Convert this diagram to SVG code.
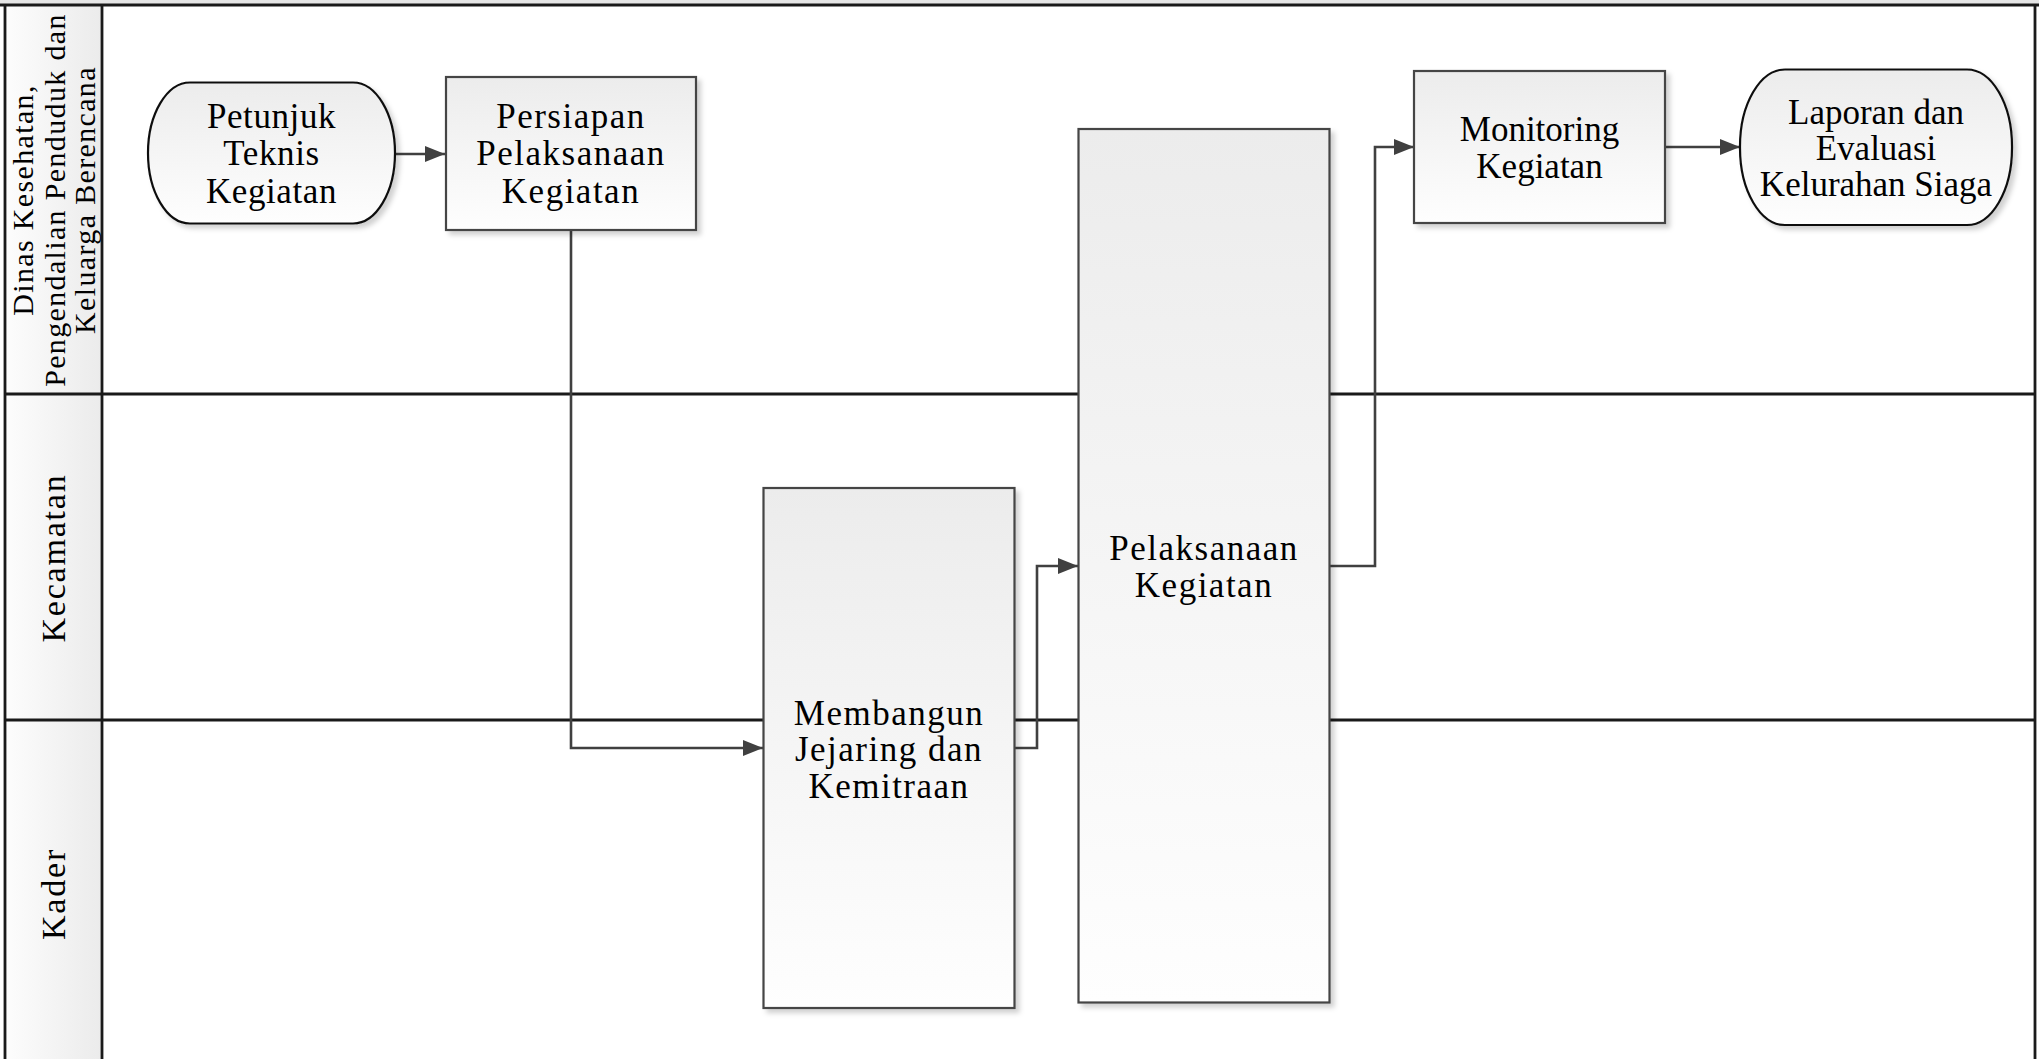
<svg xmlns="http://www.w3.org/2000/svg" width="2039" height="1059" viewBox="0 0 2039 1059">
  <defs>
    <linearGradient id="hdr" x1="0" y1="0" x2="1" y2="0">
      <stop offset="0" stop-color="#fdfdfd"/>
      <stop offset="1" stop-color="#ebebeb"/>
    </linearGradient>
    <linearGradient id="nodefill" x1="0" y1="0" x2="0" y2="1">
      <stop offset="0" stop-color="#ececec"/>
      <stop offset="1" stop-color="#fefefe"/>
    </linearGradient>
    <filter id="shadow" x="-10%" y="-10%" width="130%" height="130%">
      <feDropShadow dx="4" dy="4" stdDeviation="2.5" flood-color="#000" flood-opacity="0.18"/>
    </filter>
    <marker id="arrow" markerUnits="userSpaceOnUse" markerWidth="22" markerHeight="18" refX="20" refY="8" orient="auto">
      <path d="M0,0 L20,8 L0,16 z" fill="#404040"/>
    </marker>
  </defs>
  <style>
    .lane { stroke: #1a1a1a; stroke-width: 2.8; fill: none; }
    .hdr { fill: url(#hdr); }
    .lbl { font-family: "Liberation Serif", "Times New Roman", serif; fill: #000; text-anchor: middle; }
    .box { fill: url(#nodefill); stroke: #444; stroke-width: 2.2; filter: url(#shadow); }
    .term { fill: url(#nodefill); stroke: #111; stroke-width: 2.2; filter: url(#shadow); }
    .txt { font-family: "Liberation Serif", "Times New Roman", serif; font-size: 35px; fill: #000; text-anchor: middle; }
    .wide { letter-spacing: 1.5px; }
    .conn { fill: none; stroke: #404040; stroke-width: 2.6; }
  </style>

  <rect x="0" y="0" width="2039" height="1059" fill="#ffffff"/>

  <g id="pool">
    <rect x="0" y="0" width="2039" height="5" fill="#e6e6e6"/>
    <rect x="5" y="5" width="97" height="1060" class="hdr"/>
    <line x1="0" y1="5" x2="2039" y2="5" class="lane"/>
    <line x1="5" y1="5" x2="5" y2="1059" class="lane"/>
    <line x1="102" y1="5" x2="102" y2="1059" class="lane"/>
    <line x1="2035" y1="5" x2="2035" y2="1059" class="lane"/>
    <line x1="5" y1="394" x2="2035" y2="394" class="lane"/>
    <line x1="5" y1="720" x2="2035" y2="720" class="lane"/>
  </g>

  <g id="lane-dinas">
    <text class="lbl" font-size="30" letter-spacing="1.35" x="33" y="200" transform="rotate(-90 33 200)">Dinas Kesehatan,</text>
    <text class="lbl" font-size="30" letter-spacing="1.35" x="64.5" y="200" transform="rotate(-90 64.5 200)">Pengendalian Penduduk dan</text>
    <text class="lbl" font-size="30" letter-spacing="1.35" x="95" y="200" transform="rotate(-90 95 200)">Keluarga Berencana</text>
  </g>
  <g id="lane-kecamatan">
    <text class="lbl" font-size="34" letter-spacing="1.8" x="65" y="558" transform="rotate(-90 65 558)">Kecamatan</text>
  </g>
  <g id="lane-kader">
    <text class="lbl" font-size="34" letter-spacing="1.8" x="65" y="894" transform="rotate(-90 65 894)">Kader</text>
  </g>

  <g id="connectors">
    <line x1="395" y1="154" x2="445" y2="154" class="conn" marker-end="url(#arrow)"/>
    <polyline points="571,230 571,748 763,748" class="conn" marker-end="url(#arrow)"/>
    <polyline points="1014,748 1037,748 1037,566 1078,566" class="conn" marker-end="url(#arrow)"/>
    <polyline points="1329,566 1375,566 1375,147 1414,147" class="conn" marker-end="url(#arrow)"/>
    <line x1="1665" y1="147" x2="1740" y2="147" class="conn" marker-end="url(#arrow)"/>
  </g>

  <g id="node-petunjuk">
    <rect x="148" y="82.5" width="247" height="141" rx="42" ry="70.5" class="term"/>
    <text class="txt" letter-spacing="0.6"><tspan x="271.5" y="127.5">Petunjuk</tspan><tspan x="271.5" y="165.3">Teknis</tspan><tspan x="271.5" y="203">Kegiatan</tspan></text>
  </g>

  <g id="node-persiapan">
    <rect x="446" y="77" width="250" height="153" class="box"/>
    <text class="txt wide"><tspan x="571" y="127.5">Persiapan</tspan><tspan x="571" y="165.3">Pelaksanaan</tspan><tspan x="571" y="203">Kegiatan</tspan></text>
  </g>

  <g id="node-membangun">
    <rect x="763.5" y="488" width="251" height="520" class="box"/>
    <text class="txt wide"><tspan x="889" y="724.5">Membangun</tspan><tspan x="889" y="761">Jejaring dan</tspan><tspan x="889" y="797.5">Kemitraan</tspan></text>
  </g>

  <g id="node-pelaksanaan">
    <rect x="1078.5" y="129" width="251" height="873.5" class="box"/>
    <text class="txt wide"><tspan x="1204" y="559.5">Pelaksanaan</tspan><tspan x="1204" y="597">Kegiatan</tspan></text>
  </g>

  <g id="node-monitoring">
    <rect x="1414" y="71" width="251" height="152" class="box"/>
    <text class="txt"><tspan x="1539.5" y="140.5">Monitoring</tspan><tspan x="1539.5" y="178.3">Kegiatan</tspan></text>
  </g>

  <g id="node-laporan">
    <rect x="1740" y="69.5" width="272" height="155.5" rx="45" ry="77" class="term"/>
    <text class="txt"><tspan x="1876" y="123.5">Laporan dan</tspan><tspan x="1876" y="159.5">Evaluasi</tspan><tspan x="1876" y="195.5">Kelurahan Siaga</tspan></text>
  </g>
</svg>
